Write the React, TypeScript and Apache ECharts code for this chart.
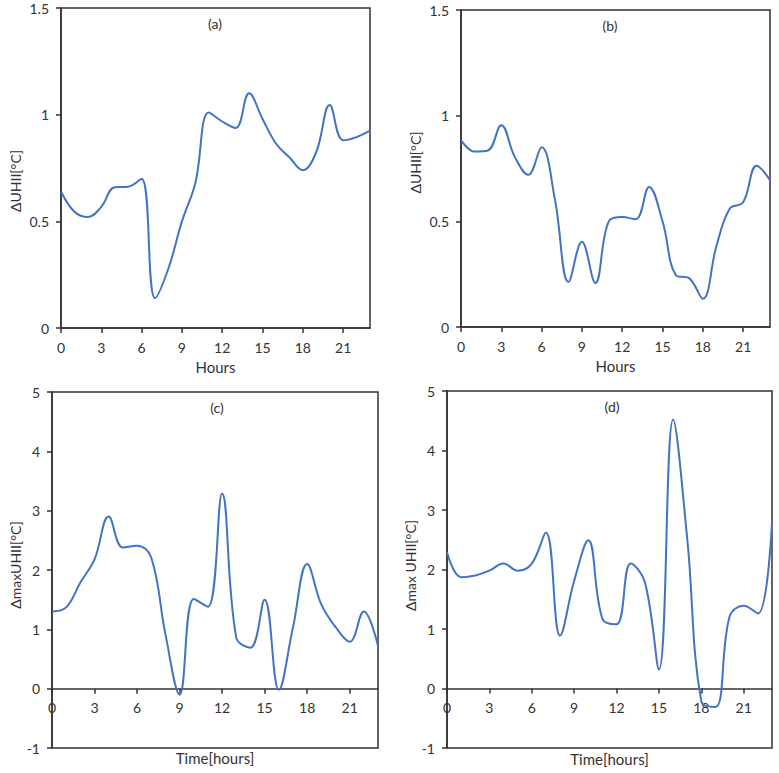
import React, { useEffect, useRef } from "react";
import * as echarts from "echarts";

const hours = [0, 1, 2, 3, 4, 5, 6, 7, 8, 9, 10, 11, 12, 13, 14, 15, 16, 17, 18, 19, 20, 21, 22, 23];
const xTicks = [0, 3, 6, 9, 12, 15, 18, 21];

const seriesA = [0.64, 0.545, 0.52, 0.568, 0.66, 0.662, 0.70, 0.14, 0.28, 0.50, 0.68, 1.01, 0.968, 0.938, 1.10, 0.98, 0.865, 0.80, 0.74, 0.825, 1.045, 0.88, 0.895, 0.925];
const seriesB = [0.885, 0.83, 0.835, 0.955, 0.805, 0.72, 0.85, 0.60, 0.213, 0.403, 0.208, 0.50, 0.52, 0.51, 0.663, 0.50, 0.245, 0.23, 0.134, 0.38, 0.56, 0.59, 0.763, 0.695];
const seriesC = [1.30, 1.37, 1.79, 2.18, 2.90, 2.38, 2.41, 2.21, 0.92, -0.1, 1.51, 1.38, 3.29, 0.86, 0.69, 1.50, -0.02, 1.03, 2.10, 1.42, 1.04, 0.79, 1.30, 0.72];
const seriesD = [2.29, 1.87, 1.90, 1.98, 2.10, 1.98, 2.10, 2.62, 0.89, 1.81, 2.49, 1.17, 1.08, 2.10, 1.79, 0.32, 4.52, 2.52, -0.22, -0.31, 1.21, 1.39, 1.26, 2.78];

const panelLabels = ["(a)", "(b)", "(c)", "(d)"];
const yNames = ["ΔUHII[°C]", "ΔUHII[°C]", "ΔmaxUHII[°C]", "Δmax UHII[°C]"];
const xNames = ["Hours", "Hours", "Time[hours]", "Time[hours]"];

const FONT = "Lato, 'Open Sans', sans-serif";
const TXT = "#333";
const LINE = "#4472C4";

export default function App() {
  const ref = useRef<HTMLDivElement>(null);
  useEffect(() => {
    if (!ref.current) return;
    const chart = echarts.init(ref.current, undefined, { renderer: "svg" });
    const grids = [
      { left: 61, top: 8, width: 309, height: 320 },
      { left: 461, top: 10, width: 309, height: 317 },
      { left: 52, top: 392, width: 326, height: 356 },
      { left: 447, top: 391, width: 325, height: 357 },
    ];
    const yRanges = [
      { min: 0, max: 1.5, interval: 0.5 },
      { min: 0, max: 1.5, interval: 0.5 },
      { min: -1, max: 5, interval: 1 },
      { min: -1, max: 5, interval: 1 },
    ];
    // x axis of (c),(d) sits on the zero line: 1/6 of the height above the bottom
    const xOffsets = [0, 0, -356 / 6, -357 / 6];
    const xNameGaps = [31, 31, 62, 63];
    const yNameGaps = [39, 39, 30, 27];
    const yNamePads = [
      [0, 26, 0, 0],
      [0, 0, 0, 12],
      [0, 0, 0, 10],
      [0, 0, 0, 8],
    ];
    const labelPos = [
      [215, 23],
      [610, 25],
      [217, 407],
      [612, 406],
    ];
    const data = [seriesA, seriesB, seriesC, seriesD];

    const option: any = {
      animation: false,
      backgroundColor: "#fff",
      grid: grids.map((g) => ({
        ...g,
        show: true,
        borderColor: TXT,
        borderWidth: 1.5,
        backgroundColor: "transparent",
        containLabel: false,
        outerBoundsMode: "none",
      })),
      xAxis: grids.map((_, i) => ({
        type: "value",
        gridIndex: i,
        min: 0,
        max: 23,
        interval: 3,
        position: "bottom",
        offset: xOffsets[i],
        name: xNames[i],
        nameLocation: "middle",
        nameGap: xNameGaps[i],
        nameTextStyle: { fontFamily: FONT, fontSize: 15, color: TXT },
        axisLine: { show: true, onZero: false, lineStyle: { color: TXT, width: 1.5 } },
        axisTick: { show: true, length: 5, lineStyle: { color: TXT, width: 1.5 }, customValues: xTicks },
        axisLabel: { fontFamily: FONT, fontSize: 14, color: TXT, margin: 12, customValues: xTicks },
        splitLine: { show: false },
      })),
      yAxis: grids.map((_, i) => ({
        type: "value",
        gridIndex: i,
        ...yRanges[i],
        name: yNames[i],
        nameLocation: "middle",
        nameGap: yNameGaps[i],
        nameRotate: 90,
        nameTextStyle: { fontFamily: FONT, fontSize: 14, color: TXT, padding: yNamePads[i] },
        axisLine: { show: true, onZero: false, lineStyle: { color: TXT, width: 1.5 } },
        axisTick: { show: true, length: 5, lineStyle: { color: TXT, width: 1.5 } },
        axisLabel: { fontFamily: FONT, fontSize: 14, color: TXT, margin: 12 },
        splitLine: { show: false },
      })),
      series: data.map((vals, i) => ({
        type: "line",
        xAxisIndex: i,
        yAxisIndex: i,
        data: hours.map((h, k) => [h, vals[k]]),
        smooth: 0.4,
        showSymbol: false,
        symbol: "none",
        lineStyle: { color: LINE, width: 2 },
        clip: true,
      })),
      graphic: panelLabels.map((t, i) => ({
        type: "text",
        x: labelPos[i][0],
        y: labelPos[i][1],
        style: {
          text: t,
          align: "center",
          verticalAlign: "middle",
          fontFamily: FONT,
          fontSize: 14,
          fill: TXT,
        },
      })),
    };
    chart.setOption(option);
    return () => chart.dispose();
  }, []);
  return (
    <div
      ref={ref}
      style={{ position: "absolute", left: 0, top: 0, width: 779, height: 773, background: "#fff" }}
    />
  );
}
